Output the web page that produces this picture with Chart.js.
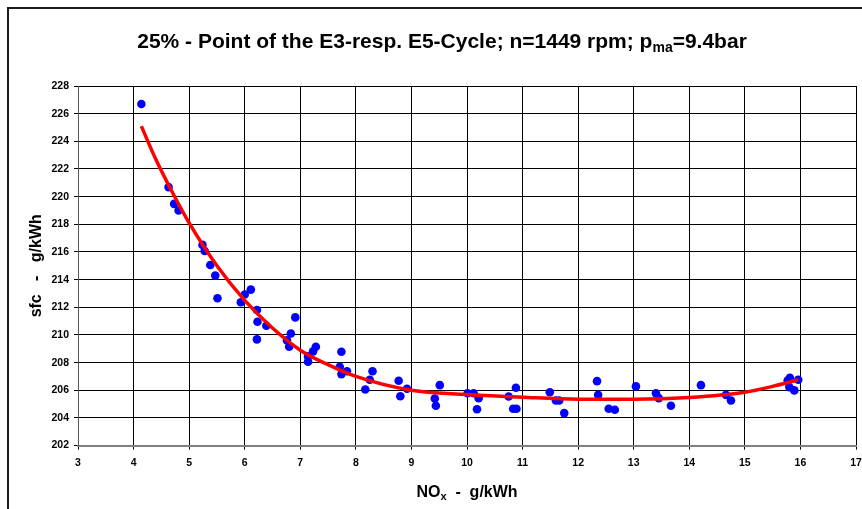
<!DOCTYPE html>
<html>
<head>
<meta charset="utf-8">
<script src="https://cdn.jsdelivr.net/npm/chart.js@4/dist/chart.umd.min.js"></script>
<style>
  html, body { margin: 0; padding: 0; background: #fff; }
  #wrap { width: 862px; height: 509px; position: relative; }
</style>
</head>
<body>
<div id="wrap"><canvas id="sfcChart"></canvas></div>
<script>
// measured points (NOx, sfc)
const noxValues = [4.14, 4.63, 4.73, 4.81, 5.24, 5.28, 5.38, 5.47, 5.51, 5.93, 6.00, 6.11,
    6.22, 6.23, 6.22, 6.39, 6.91, 6.83, 6.76, 6.80, 7.28, 7.23, 7.14, 7.14, 7.74, 7.71,
    7.74, 7.84, 8.30, 8.25, 8.17, 8.77, 8.80, 8.92, 9.42, 9.44, 9.51, 10.01, 10.12, 10.21,
    10.18, 10.75, 10.88, 10.83, 10.89, 11.49, 11.60, 11.66, 11.75, 12.34, 12.36, 12.55,
    12.66, 13.04, 13.40, 13.45, 13.67, 14.21, 14.66, 14.75, 15.77, 15.81, 15.80, 15.89, 15.96];
const sfcValues = [226.70, 220.69, 219.48, 219.00, 216.51, 216.07, 215.06, 214.29, 212.65,
    212.36, 212.92, 213.28, 211.80, 210.96, 209.68, 210.67, 211.27, 210.11, 209.61, 209.15,
    209.15, 208.81, 208.45, 208.07, 208.79, 207.70, 207.17, 207.38, 207.38, 206.76, 206.06,
    206.69, 205.57, 206.11, 205.40, 204.88, 206.37, 205.79, 205.79, 205.43, 204.63, 205.55,
    206.18, 204.66, 204.66, 205.86, 205.26, 205.26, 204.35, 206.66, 205.67, 204.66, 204.59,
    206.28, 205.79, 205.43, 204.88, 206.37, 205.67, 205.26, 206.71, 206.90, 206.23, 205.99, 206.76];

// trend curve
const fitX = [4.14, 4.4, 4.7, 5.0, 5.5, 6.0, 6.5, 7.0, 7.5, 8.0, 9.0, 10, 11, 12, 13, 14, 15, 15.5, 15.96];
const fitY = [225.1, 222.7, 220.3, 218.1, 215.0, 212.5, 210.5, 208.9, 207.85, 207.0, 206.0,
    205.7, 205.5, 205.36, 205.36, 205.48, 205.86, 206.28, 206.76];

const xMin = 3, xMax = 17, xStep = 1;
const yMin = 202, yMax = 228, yStep = 2;

const FONT = '"Liberation Sans", Arial, sans-serif';

const toXY = (xs, ys) => xs.map((x, i) => ({ x: x, y: ys[i] }));

// draws the frame, title and axis titles (they need subscripts)
const textPlugin = {
    id: 'texts',
    afterDraw(chart) {
        const ctx = chart.ctx;
        ctx.save();
        ctx.fillStyle = '#000';
        ctx.strokeStyle = '#1a1a1a';
        ctx.lineWidth = 2;
        ctx.strokeRect(8, 8, 1000, 1000);

        // title with subscript
        const main = '25% - Point of the E3-resp. E5-Cycle; n=1449 rpm; p';
        const sub = 'ma';
        const tail = '=9.4bar';
        const big = 'bold 21px ' + FONT;
        const small = 'bold 14px ' + FONT;
        ctx.textBaseline = 'alphabetic';
        ctx.textAlign = 'left';
        ctx.font = big;
        const w1 = ctx.measureText(main).width;
        const w3 = ctx.measureText(tail).width;
        ctx.font = small;
        const w2 = ctx.measureText(sub).width;
        let x = 442 - (w1 + w2 + w3) / 2;
        const base = 48;
        ctx.font = big;
        ctx.fillText(main, x, base);
        x += w1;
        ctx.font = small;
        ctx.fillText(sub, x, base + 4);
        x += w2;
        ctx.font = big;
        ctx.fillText(tail, x, base);

        // x axis title
        const xa = chart.chartArea;
        const t1 = 'NO', t2 = 'x', t3 = '  -  g/kWh';
        const f1 = 'bold 16px ' + FONT, f2 = 'bold 11px ' + FONT;
        ctx.font = f1;
        const a = ctx.measureText(t1).width, c = ctx.measureText(t3).width;
        ctx.font = f2;
        const b = ctx.measureText(t2).width;
        let px = (xa.left + xa.right) / 2 - (a + b + c) / 2;
        const pb = 497;
        ctx.font = f1;
        ctx.fillText(t1, px, pb);
        px += a;
        ctx.font = f2;
        ctx.fillText(t2, px, pb + 3);
        px += b;
        ctx.font = f1;
        ctx.fillText(t3, px, pb);

        // y axis title
        ctx.translate(41, (xa.top + xa.bottom) / 2);
        ctx.rotate(-Math.PI / 2);
        ctx.textAlign = 'center';
        ctx.font = f1;
        ctx.fillText('sfc   -   g/kWh', 0, 0);
        ctx.restore();
    }
};

new Chart(document.getElementById('sfcChart'), {
    type: 'scatter',
    data: {
        datasets: [{
            label: 'fit',
            data: toXY(fitX, fitY),
            showLine: true,
            borderColor: '#ff0000',
            borderWidth: 3.5,
            pointRadius: 0,
            cubicInterpolationMode: 'monotone',
            order: 0
        }, {
            label: 'sfc',
            data: toXY(noxValues, sfcValues),
            backgroundColor: '#0000ff',
            borderColor: '#0000ff',
            pointRadius: 4.3,
            pointBorderWidth: 0,
            order: 1
        }]
    },
    options: {
        responsive: true,
        maintainAspectRatio: false,
        animation: false,
        layout: { padding: { top: 86, right: 1, left: 0, bottom: 0 } },
        plugins: {
            legend: { display: false },
            tooltip: { enabled: false }
        },
        scales: {
            x: {
                type: 'linear',
                min: xMin, max: xMax,
                afterFit: (s) => { s.height = 63.4; s.paddingRight = 6; },
                ticks: {
                    stepSize: xStep,
                    padding: 7,
                    color: '#000',
                    font: { family: FONT, size: 10.5, weight: 'bold' }
                },
                grid: { color: '#000', lineWidth: 1, tickLength: 4 },
                border: { color: '#808080', width: 2 }
            },
            y: {
                type: 'linear',
                min: yMin, max: yMax,
                afterFit: (s) => { s.width = 78; },
                ticks: {
                    stepSize: yStep,
                    padding: 5,
                    color: '#000',
                    font: { family: FONT, size: 10.5, weight: 'bold' }
                },
                grid: { color: '#000', lineWidth: 1, tickLength: 4 },
                border: { color: '#555', width: 1 }
            }
        }
    },
    plugins: [textPlugin]
});
</script>
</body>
</html>
